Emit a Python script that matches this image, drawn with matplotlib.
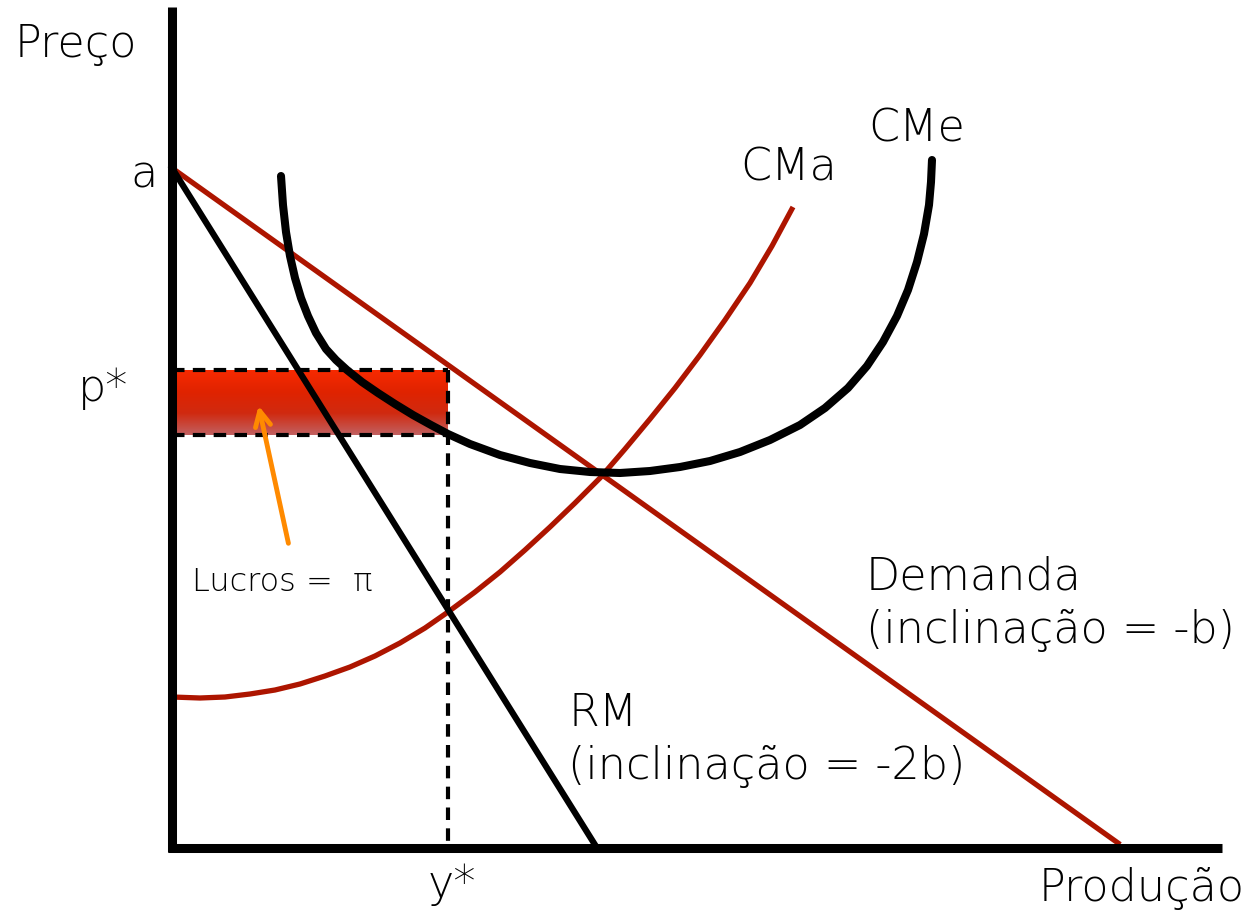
import matplotlib
matplotlib.use('Agg')
import matplotlib.pyplot as plt
import numpy as np
from matplotlib.colors import LinearSegmentedColormap

# coordinate space = picture pixels (y grows downward)
W, H = 1251, 913

# demanda e receita marginal (pontos extremos)
demanda_x = [172, 1118]
demanda_y = [168, 843]
rm_x = [172, 597]
rm_y = [168, 848]

# custo medio (CMe)
cme_x = [281, 283, 286, 290, 295, 301, 308, 316, 326, 336, 347, 362, 378, 395,
         413, 431, 448, 470, 500, 530, 560, 590, 620, 650, 680, 710, 740, 770,
         800, 825, 848, 867, 883, 897, 908, 917, 924, 929, 931, 932]
cme_y = [176, 205, 232, 256, 278, 298, 316, 333, 349, 360, 370, 382, 393, 404,
         415, 425, 434, 444, 455, 463, 469, 472, 473, 471, 467, 461, 452, 440,
         425, 408, 388, 366, 342, 316, 290, 262, 234, 205, 182, 160]

# custo marginal (CMa)
cma_x = [172, 200, 225, 250, 275, 300, 325, 350, 375, 400, 425, 448, 475, 500,
         525, 550, 575, 600, 625, 650, 675, 700, 725, 750, 772, 793]
cma_y = [697, 698, 697, 694, 690, 684, 676, 667, 656, 643, 628, 612, 592, 572,
         550, 527, 503, 478, 449, 419, 388, 355, 320, 283, 246, 207]

y_star = 448
p_star = 370
cme_star = 435

red = '#ad1500'

fig = plt.figure(figsize=(W / 100, H / 100), dpi=100)
ax = fig.add_axes([0, 0, 1, 1])
ax.set_xlim(0, W)
ax.set_ylim(H, 0)
ax.axis('off')

# area de lucro com degrade
cmap = LinearSegmentedColormap.from_list('lucro', ['#f72a00', '#e02300', '#d02a10', '#c26060'])
grad = np.linspace(0, 1, 100).reshape(-1, 1)
ax.imshow(grad, cmap=cmap, extent=[172, y_star, cme_star, p_star], aspect='auto', zorder=1)

dash = (0, (3, 2))
ax.plot([172, y_star], [p_star, p_star], color='black', lw=3, linestyle=dash, zorder=2)
ax.plot([172, y_star], [cme_star, cme_star], color='black', lw=3, linestyle=dash, zorder=2)
ax.plot([y_star, y_star], [p_star, 848], color='black', lw=3, linestyle=dash, zorder=2)

# curvas
ax.plot(demanda_x, demanda_y, color=red, lw=3.8, zorder=3)
ax.plot(cma_x, cma_y, color=red, lw=3.8, zorder=3, solid_capstyle='butt',
        solid_joinstyle='round')
ax.plot(rm_x, rm_y, color='black', lw=4.5, zorder=4)
ax.plot(cme_x, cme_y, color='black', lw=5.8, zorder=4, solid_capstyle='round',
        solid_joinstyle='round')

# eixos
ax.plot([172, 172], [7, 852], color='black', lw=6.5, solid_capstyle='butt', zorder=5)
ax.plot([168, 1222], [848, 848], color='black', lw=6.5, solid_capstyle='butt', zorder=5)

# seta dos lucros
ax.annotate('', xy=(258, 403), xytext=(289, 546),
            arrowprops=dict(arrowstyle='->,head_length=1.1,head_width=0.55',
                            color='#ff8a00', lw=3.5), zorder=6)

fs = 32
kw = dict(fontsize=fs, va='center', fontweight=200)
ax.text(15, 45, 'Preço', ha='left', **kw)
ax.text(158, 175, 'a', ha='right', **kw)
ax.text(128, 388, 'p*', ha='right', **kw)
ax.text(740, 168, 'CMa', ha='left', **kw)
ax.text(868, 129, 'CMe', ha='left', **kw)
ax.text(192, 582, 'Lucros =  π', fontsize=23, va='center', ha='left', fontweight=200)
ax.text(866, 577, 'Demanda', ha='left', **kw)
ax.text(866, 630, '(inclinação = -b)', ha='left', **kw)
ax.text(568, 713, 'RM', ha='left', **kw)
ax.text(568, 767, '(inclinação = -2b)', ha='left', **kw)
ax.text(428, 885, 'y*', ha='left', **kw)
ax.text(1245, 888, 'Produção', ha='right', **kw)

fig.savefig('out.png', dpi=100)
